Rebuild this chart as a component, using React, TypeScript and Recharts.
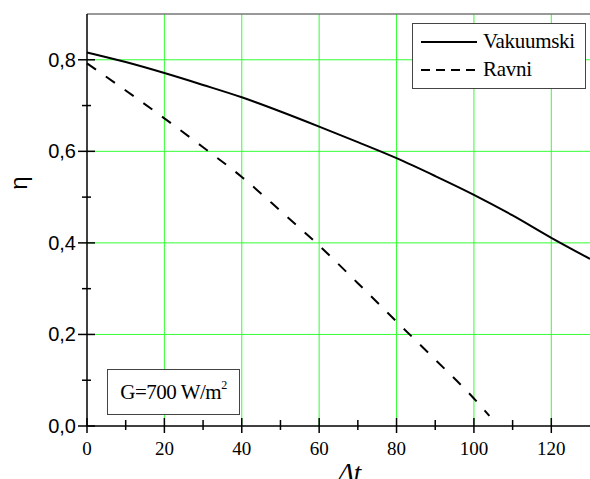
import { LineChart, Line, XAxis, YAxis, ReferenceLine } from "recharts";

// temperature difference (x) and efficiency of both collector types
const dtVakuumski = [0, 10, 20, 30, 40, 50, 60, 70, 80, 90, 100, 110, 120, 130];
const vakuumski = [0.816, 0.795, 0.771, 0.745, 0.718, 0.687, 0.654, 0.62, 0.585, 0.546, 0.505, 0.46, 0.411, 0.365];
const dtRavni = [0, 10, 20, 30, 40, 50, 60, 70, 80, 90, 100, 104];
const ravni = [0.792, 0.733, 0.672, 0.609, 0.544, 0.47, 0.394, 0.312, 0.228, 0.145, 0.06, 0.022];

const xTicks = [0, 10, 20, 30, 40, 50, 60, 70, 80, 90, 100, 110, 120];
const yTicks = [0, 0.1, 0.2, 0.3, 0.4, 0.5, 0.6, 0.7, 0.8];
const xGrid = [20, 40, 60, 80, 100, 120];
const yGrid = [0.2, 0.4, 0.6, 0.8];

const vakData = dtVakuumski.map((x, i) => ({ dt: x, eta: vakuumski[i] }));
const ravData = dtRavni.map((x, i) => ({ dt: x, eta: ravni[i] }));

const SERIF = '"Liberation Serif", "Times New Roman", serif';
const SANS = '"Liberation Sans", Arial, sans-serif';
const GRID = "#33ff33";

const XTick = (props: any) => {
  const { x, y, payload } = props;
  const major = payload.value % 20 === 0;
  return (
    <g>
      <line x1={x} x2={x} y1={major ? y - 8 : y - 6} y2={major ? y + 7 : y + 4} stroke="#000" strokeWidth={1.5} />
      {major && (
        <text x={x} y={y + 29} textAnchor="middle" style={{ fontFamily: SERIF, fontSize: 19 }} fill="#000">
          {payload.value}
        </text>
      )}
    </g>
  );
};

const YTick = (props: any) => {
  const { x, y, payload } = props;
  const major = Math.round(payload.value * 10) % 2 === 0;
  return (
    <g>
      <line x1={major ? x - 9 : x - 5} x2={major ? x + 8 : x + 4} y1={y} y2={y} stroke="#000" strokeWidth={1.5} />
      {major && (
        <text x={x - 11} y={y + 7} textAnchor="end" style={{ fontFamily: SANS, fontSize: 20 }} fill="#000">
          {payload.value.toFixed(1).replace(".", ",")}
        </text>
      )}
    </g>
  );
};

export default function App() {
  return (
    <div style={{ position: "absolute", left: 0, top: 0, width: 590, height: 479, overflow: "hidden", background: "#fff" }}>
      <LineChart width={600} height={479} margin={{ top: 14, right: 10, left: 0, bottom: 0 }}>
        <XAxis
          dataKey="dt"
          type="number"
          domain={[0, 130]}
          ticks={xTicks}
          interval={0}
          tickSize={0}
          tickMargin={0}
          height={53}
          tick={<XTick />}
          tickLine={false}
          axisLine={{ stroke: "#000", strokeWidth: 1.5 }}
          allowDuplicatedCategory={false}
        />
        <YAxis
          type="number"
          domain={[0, 0.9]}
          ticks={yTicks}
          interval={0}
          tickSize={0}
          tickMargin={0}
          width={87}
          tick={<YTick />}
          tickLine={false}
          axisLine={{ stroke: "#000", strokeWidth: 1.5 }}
        />
        {yGrid.map((v) => (
          <ReferenceLine key={"y" + v} y={v} stroke={GRID} strokeWidth={1} />
        ))}
        {xGrid.map((v) => (
          <ReferenceLine key={"x" + v} x={v} stroke={GRID} strokeWidth={1} />
        ))}
        <ReferenceLine y={0.9} stroke="#777" strokeWidth={1.5} />
        <Line data={vakData} type="monotone" dataKey="eta" name="Vakuumski" stroke="#000" strokeWidth={2} dot={false} isAnimationActive={false} />
        <Line data={ravData} type="monotone" dataKey="eta" name="Ravni" stroke="#000" strokeWidth={2} strokeDasharray="11 12" dot={false} isAnimationActive={false} />
      </LineChart>

      {/* axis titles */}
      <div style={{ position: "absolute", left: 7, top: 172, width: 24, height: 22, fontFamily: SANS, fontSize: 24, lineHeight: "22px", textAlign: "center", transform: "rotate(-90deg)" }}>
        η
      </div>
      <div style={{ position: "absolute", left: 338, top: 458, fontFamily: SERIF, fontStyle: "italic", fontSize: 27, lineHeight: "30px" }}>
        Δt
      </div>

      {/* legend */}
      <div style={{ position: "absolute", left: 412, top: 23, width: 172, height: 64, border: "1.5px solid #444", background: "#fff", fontFamily: SERIF, fontSize: 21 }}>
        <svg width={60} height={64} style={{ position: "absolute", left: 6, top: 0 }}>
          <line x1={2} x2={58} y1={18} y2={18} stroke="#000" strokeWidth={2} />
          <line x1={2} x2={58} y1={46} y2={46} stroke="#000" strokeWidth={2} strokeDasharray="9 6" />
        </svg>
        <div style={{ position: "absolute", left: 70, top: 5, letterSpacing: -0.3, lineHeight: "24px" }}>Vakuumski</div>
        <div style={{ position: "absolute", left: 70, top: 33, letterSpacing: -0.3, lineHeight: "24px" }}>Ravni</div>
      </div>

      {/* irradiance note */}
      <div style={{ position: "absolute", left: 107, top: 369, width: 131, height: 44, border: "1.5px solid #444", background: "#fff", fontFamily: SERIF, fontSize: 21, lineHeight: "44px", textAlign: "center", letterSpacing: -0.5 }}>
        G=700 W/m<sup style={{ fontSize: 12, verticalAlign: "top", lineHeight: "30px" }}>2</sup>
      </div>
    </div>
  );
}
